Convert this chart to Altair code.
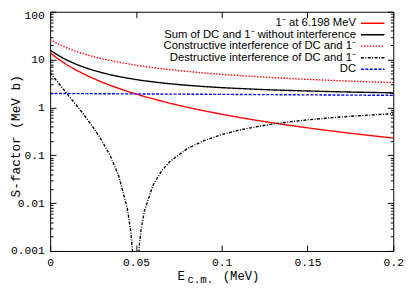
import altair as alt
import pandas as pd

# ---------------- data ----------------
E_MAIN = [0, 0.005, 0.01, 0.015, 0.02, 0.025, 0.03, 0.035, 0.04, 0.045, 0.05,
          0.055, 0.06, 0.065, 0.07, 0.08, 0.09, 0.10, 0.11, 0.12, 0.13, 0.14,
          0.15, 0.16, 0.17, 0.18, 0.19, 0.20]
RES = [13.80, 10.10, 7.71, 6.08, 4.92, 4.06, 3.40, 2.90, 2.50, 2.17, 1.91,
       1.69, 1.51, 1.35, 1.22, 1.007, 0.845, 0.720, 0.620, 0.540, 0.475, 0.420,
       0.375, 0.336, 0.304, 0.275, 0.251, 0.229]
DC = [1.960, 1.956, 1.952, 1.947, 1.943, 1.939, 1.935, 1.930, 1.926, 1.922, 1.918,
      1.914, 1.909, 1.905, 1.901, 1.892, 1.884, 1.875, 1.867, 1.858, 1.850, 1.841,
      1.833, 1.824, 1.816, 1.807, 1.799, 1.790]
SUM = [15.76, 12.06, 9.66, 8.03, 6.86, 6.00, 5.34, 4.83, 4.42, 4.10, 3.83,
       3.60, 3.42, 3.26, 3.12, 2.90, 2.73, 2.59, 2.49, 2.40, 2.32, 2.26,
       2.21, 2.16, 2.12, 2.08, 2.05, 2.02]
CONS = [26.16, 20.95, 17.42, 14.91, 13.04, 11.60, 10.47, 9.56, 8.81, 8.18, 7.65,
        7.20, 6.81, 6.46, 6.16, 5.66, 5.25, 4.92, 4.64, 4.40, 4.20, 4.02,
        3.86, 3.73, 3.60, 3.49, 3.39, 3.30]

E_DES = [0, 0.005, 0.01, 0.015, 0.02, 0.025, 0.03, 0.035, 0.04, 0.045,
         0.047, 0.048, 0.049, 0.0495, 0.05, 0.051, 0.052, 0.053, 0.055,
         0.06, 0.065, 0.07, 0.08, 0.09, 0.10, 0.11, 0.12, 0.13, 0.14,
         0.15, 0.16, 0.17, 0.18, 0.19, 0.20]
DES = [5.36, 3.17, 1.90, 1.145, 0.678, 0.386, 0.206, 0.098, 0.0369, 0.0077,
       0.0025, 0.0010, 0.0002, 0.00003, 0.00001, 0.0004, 0.00134, 0.0028, 0.0070,
       0.0239, 0.0474, 0.0754, 0.1385, 0.205, 0.271, 0.335, 0.394, 0.450, 0.502,
       0.550, 0.594, 0.634, 0.672, 0.706, 0.738]

SERIES = ["1\u207b at 6.198 MeV",
          "Sum of DC and 1\u207b without interference",
          "Constructive interference of DC and 1\u207b",
          "Destructive interference of DC and 1\u207b",
          "DC"]
COLORS = ["#ff0000", "#000000", "#ff0000", "#000000", "#0000ff"]
DASHES = [[1, 0], [1, 0], [1.5, 1.5], [3, 1.5, 1, 1.5], [3, 1.5]]

X_TICKS = [0, 0.05, 0.1, 0.15, 0.2]
Y_MAJOR = [0.001, 0.01, 0.1, 1, 10, 100]
Y_MINOR = [k * 10.0 ** e for e in range(-3, 2) for k in range(2, 10)]

# ---------------- table ----------------
rows = []
for name, vals in zip(SERIES, [RES, SUM, CONS, None, DC]):
    if vals is None:
        for e, v in zip(E_DES, DES):
            rows.append({"E": e, "S": v, "series": name})
    else:
        for e, v in zip(E_MAIN, vals):
            rows.append({"E": e, "S": v, "series": name})
df = pd.DataFrame(rows)

W, H = 350, 244
MAJ, MIN = 6, 3
MONO = "Liberation Mono"
SANS = "Liberation Sans"

xs = alt.Scale(domain=[0, 0.2], nice=False, zero=False)
ys = alt.Scale(type="log", domain=[0.001, 100], nice=False)


def axis(orient, values, size, labels=False, **kw):
    return alt.Axis(orient=orient, values=values, offset=-size, tickSize=size,
                    tickColor="#000", tickWidth=1, domain=False, grid=False,
                    labels=labels, title=None, labelOverlap=False,
                    labelFlush=False, labelBound=False, **kw)


lines = alt.Chart(df).mark_line(strokeWidth=1.4, clip=True).encode(
    x=alt.X("E:Q", scale=xs,
            axis=axis("bottom", X_TICKS, MAJ, labels=True, format="~g",
                      labelFont=MONO, labelFontSize=11.5, labelColor="#000",
                      labelPadding=6)),
    y=alt.Y("S:Q", scale=ys,
            axis=axis("left", Y_MAJOR, MAJ, labels=True, format="~g",
                      labelFont=MONO, labelFontSize=11.5, labelColor="#000",
                      labelPadding=6,
                      labelOffset={"condition": {"test": "datum.value >= 100", "value": 4},
                                   "value": 0})),
    color=alt.Color("series:N", scale=alt.Scale(domain=SERIES, range=COLORS), legend=None),
    strokeDash=alt.StrokeDash("series:N", scale=alt.Scale(domain=SERIES, range=DASHES), legend=None),
    detail="series:N",
)

base_inv = alt.Chart(df).mark_point(opacity=0)
mirror_major = base_inv.encode(
    x=alt.X("E:Q", scale=xs, axis=axis("top", X_TICKS, MAJ)),
    y=alt.Y("S:Q", scale=ys, axis=axis("right", Y_MAJOR, MAJ)),
)
left_minor = base_inv.encode(
    x=alt.X("E:Q", scale=xs, axis=None),
    y=alt.Y("S:Q", scale=ys, axis=axis("left", Y_MINOR, MIN)),
)
right_minor = base_inv.encode(
    x=alt.X("E:Q", scale=xs, axis=None),
    y=alt.Y("S:Q", scale=ys, axis=axis("right", Y_MINOR, MIN)),
)

# ---------------- key (gnuplot style, inside top-right) ----------------
key_layers = []
row_y = [11.7, 23.4, 35.1, 46.9, 58.6]
for i, name in enumerate(SERIES):
    one = pd.DataFrame({"label": [name]})
    key_layers.append(
        alt.Chart(one).mark_text(align="right", baseline="middle", font=SANS,
                                 fontSize=11.5, color="#000").encode(
            x=alt.value(312), y=alt.value(row_y[i]), text="label:N"))
    key_layers.append(
        alt.Chart(one).mark_rule(color=COLORS[i], strokeWidth=1.4,
                                 strokeDash=DASHES[i]).encode(
            x=alt.value(317), x2=alt.value(341), y=alt.value(row_y[i])))

# ---------------- axis titles ----------------
def label(txt, x, y, size, angle=0, align="left", baseline="alphabetic"):
    kw = dict(align=align, baseline=baseline, font=MONO, fontSize=size, color="#000")
    if angle:
        kw["angle"] = angle
    return alt.Chart(pd.DataFrame({"t": [txt]})).mark_text(**kw).encode(
        x=alt.value(x), y=alt.value(y), text="t:N")

titles = [
    label("E", 130, 274, 12.5),
    label("c.m.", 140, 277, 11),
    label("(MeV)", 176, 274, 12.5),
    label("S-factor (MeV b)", -35, H / 2 + 5, 13, angle=270, align="center", baseline="middle"),
]

chart = alt.layer(lines, mirror_major, left_minor, right_minor, *key_layers, *titles).resolve_axis(
    x="independent", y="independent"
).properties(
    width=W, height=H,
    padding={"left": 43, "top": 1, "right": 14, "bottom": 38},
    autosize=alt.AutoSizeParams(type="none"),
).configure_view(stroke="#000", strokeWidth=1)

chart.save("out.html", embed_options={"renderer": "svg", "actions": False})
